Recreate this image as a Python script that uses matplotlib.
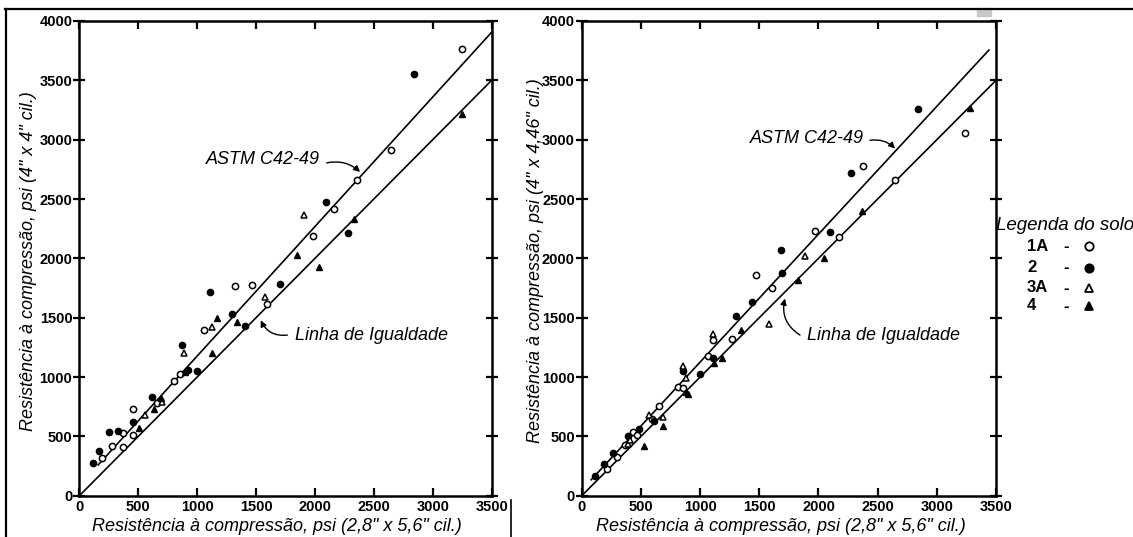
import matplotlib
matplotlib.use('Agg')
import matplotlib.pyplot as plt
from matplotlib.lines import Line2D
from matplotlib.patches import Rectangle

# ---- data ----
# left panel: 2,8" x 5,6" cyl. vs 4" x 4" cyl.
L_1A_x = [190, 275, 375, 375, 455, 460, 660, 800, 855, 1060, 1320, 1470, 1595, 1985, 2160, 2355, 2650, 3245]
L_1A_y = [320, 420, 525, 410, 730, 515, 780, 970, 1025, 1400, 1765, 1780, 1620, 2185, 2420, 2660, 2910, 3760]
L_2_x = [120, 170, 255, 325, 460, 615, 870, 920, 1000, 1110, 1300, 1405, 1705, 2095, 2280, 2840]
L_2_y = [280, 375, 535, 550, 620, 835, 1270, 1060, 1050, 1720, 1530, 1430, 1785, 2475, 2210, 3550]
L_3A_x = [560, 700, 890, 1130, 1575, 1905]
L_3A_y = [680, 790, 1200, 1420, 1675, 2365]
L_4_x = [510, 630, 690, 900, 1130, 1165, 1335, 1850, 2035, 2330, 3245]
L_4_y = [575, 735, 820, 1040, 1200, 1500, 1460, 2025, 1930, 2335, 3220]

# right panel: 2,8" x 5,6" cyl. vs 4" x 4,46" cyl.
R_1A_x = [210, 295, 365, 435, 465, 595, 655, 810, 855, 1070, 1110, 1270, 1470, 1605, 1975, 2170, 2380, 2645, 3240]
R_1A_y = [225, 330, 430, 535, 510, 650, 755, 920, 910, 1175, 1310, 1320, 1860, 1750, 2230, 2180, 2780, 2660, 3055]
R_2_x = [110, 185, 265, 390, 480, 615, 860, 1000, 1105, 1305, 1435, 1680, 1690, 2100, 2275, 2840]
R_2_y = [170, 265, 360, 500, 565, 630, 1050, 1025, 1165, 1515, 1630, 2070, 1875, 2220, 2720, 3255]
R_3A_x = [390, 410, 565, 685, 855, 885, 1110, 1580, 1890]
R_3A_y = [440, 470, 680, 665, 1090, 995, 1360, 1445, 2020]
R_4_x = [530, 685, 880, 895, 1120, 1185, 1345, 1830, 2050, 2370, 3280]
R_4_y = [420, 585, 875, 860, 1115, 1165, 1400, 1820, 2005, 2400, 3270]

# reference lines (end points)
L_astm_x = [160, 3500]
L_astm_y = [260, 3905]
R_astm_x = [80, 3440]
R_astm_y = [135, 3755]
equal_x = [0, 3500]
equal_y = [0, 3500]

x_ticks = [0, 500, 1000, 1500, 2000, 2500, 3000, 3500]
y_ticks = [0, 500, 1000, 1500, 2000, 2500, 3000, 3500, 4000]

xlabel = 'Resistência à compressão, psi (2,8" x 5,6" cil.)'
ylabel_L = 'Resistência à compressão, psi (4" x 4" cil.)'
ylabel_R = 'Resistência à compressão, psi (4" x 4,46" cil.)'

legend_title = 'Legenda do solo'
legend_names = ['1A', '2', '3A', '4']

label_font = ['Liberation Sans', 'DejaVu Sans']
tick_font = ['Liberation Sans Narrow', 'Liberation Sans', 'DejaVu Sans']

W, H = 1133, 537
fig = plt.figure(figsize=(W / 100, H / 100), dpi=100)


def setup_axes(ax, ylabel, ylab_x):
	ax.set_xlim(0, 3500)
	ax.set_ylim(0, 4000)
	ax.set_xticks(x_ticks)
	ax.set_yticks(y_ticks)
	for s in ax.spines.values():
		s.set_linewidth(1.8)
	ax.tick_params(axis='x', direction='in', top=True, length=6, width=1.6, pad=3)
	ax.tick_params(axis='y', direction='inout', right=True, length=8, width=1.6, pad=1)
	for lab in ax.get_xticklabels() + ax.get_yticklabels():
		lab.set_family(tick_font)
		lab.set_weight('bold')
		lab.set_fontsize(10.5)
	ax.set_xlabel(xlabel, family=label_font, style='italic', fontsize=13)
	ax.set_ylabel(ylabel, family=label_font, style='italic', fontsize=13)
	ax.xaxis.set_label_coords(0.48, -0.047)
	ax.yaxis.set_label_coords(ylab_x, 0.495)


def draw_points(ax, p1x, p1y, p2x, p2y, p3x, p3y, p4x, p4y):
	ms = 4.5
	ax.plot(p1x, p1y, 'o', ms=ms, mfc='white', mec='black', mew=1.1, ls='none', clip_on=False)
	ax.plot(p2x, p2y, 'o', ms=ms, mfc='black', mec='black', ls='none', clip_on=False)
	ax.plot(p3x, p3y, '^', ms=ms + 0.5, mfc='white', mec='black', mew=1.1, ls='none', clip_on=False)
	ax.plot(p4x, p4y, '^', ms=ms + 0.5, mfc='black', mec='black', ls='none', clip_on=False)


def arrow_note(ax, text, tx, ty, start, end, rad, ha):
	ax.text(tx, ty, text, family=label_font, style='italic', fontsize=13, ha=ha, va='center')
	ax.annotate('', xy=end, xytext=start,
		arrowprops=dict(arrowstyle='-|>', color='black', lw=1.0, mutation_scale=9,
			shrinkA=0, shrinkB=0, connectionstyle='arc3,rad=%s' % rad))


# ---- left panel ----
ax1 = fig.add_axes([79.3 / W, 1 - 495.8 / H, 412.3 / W, 474.8 / H])
setup_axes(ax1, ylabel_L, -0.103)
ax1.plot(L_astm_x, L_astm_y, color='black', lw=1.2)
ax1.plot(equal_x, equal_y, color='black', lw=1.2)
draw_points(ax1, L_1A_x, L_1A_y, L_2_x, L_2_y, L_3A_x, L_3A_y, L_4_x, L_4_y)
arrow_note(ax1, 'ASTM C42-49', 2043, 2833, (2100, 2805), (2383, 2728), -0.25, 'right')
arrow_note(ax1, 'Linha de Igualdade', 1828, 1349, (1767, 1354), (1540, 1478), -0.35, 'left')

# ---- right panel ----
ax2 = fig.add_axes([581.7 / W, 1 - 495.8 / H, 414.3 / W, 474.8 / H])
setup_axes(ax2, ylabel_R, -0.091)
ax2.plot(R_astm_x, R_astm_y, color='black', lw=1.2)
ax2.plot(equal_x, equal_y, color='black', lw=1.2)
draw_points(ax2, R_1A_x, R_1A_y, R_2_x, R_2_y, R_3A_x, R_3A_y, R_4_x, R_4_y)
arrow_note(ax2, 'ASTM C42-49', 2380, 3009, (2436, 2995), (2647, 2925), -0.25, 'right')
arrow_note(ax2, 'Linha de Igualdade', 1901, 1354, (1844, 1354), (1717, 1662), -0.35, 'left')

# ---- soil legend at the right edge (cut by the page edge as in the scan) ----
fig.text(996 / W, 1 - 226 / H, legend_title, family=label_font, style='italic', fontsize=13.5,
	ha='left', va='center')
leg_y = [246, 268, 288, 306]
leg_style = [('o', 'white'), ('o', 'black'), ('^', 'white'), ('^', 'black')]
for name, y, (m, fc) in zip(legend_names, leg_y, leg_style):
	fig.text(1027 / W, 1 - y / H, name, family=tick_font, weight='bold', fontsize=12, ha='left', va='center')
	fig.text(1066 / W, 1 - y / H, '-', family=tick_font, weight='bold', fontsize=12, ha='center', va='center')
	fig.add_artist(Line2D([1089 / W], [1 - y / H], marker=m, ms=6, mfc=fc, mec='black', mew=1.3, ls='none'))

# ---- page frame lines from the scanned document ----
fig.add_artist(Line2D([5 / W, 1], [1 - 8.5 / H, 1 - 8.5 / H], color='black', lw=1.6))
fig.add_artist(Line2D([6 / W, 6 / W], [0, 1 - 8.5 / H], color='black', lw=1.6))
fig.add_artist(Line2D([511 / W, 511 / W], [0, 1 - 500 / H], color='black', lw=1.2))
fig.add_artist(Rectangle((977 / W, 1 - 16 / H), 14 / W, 8 / H, color='#c8c8c8'))

fig.savefig('out.png', dpi=100)
